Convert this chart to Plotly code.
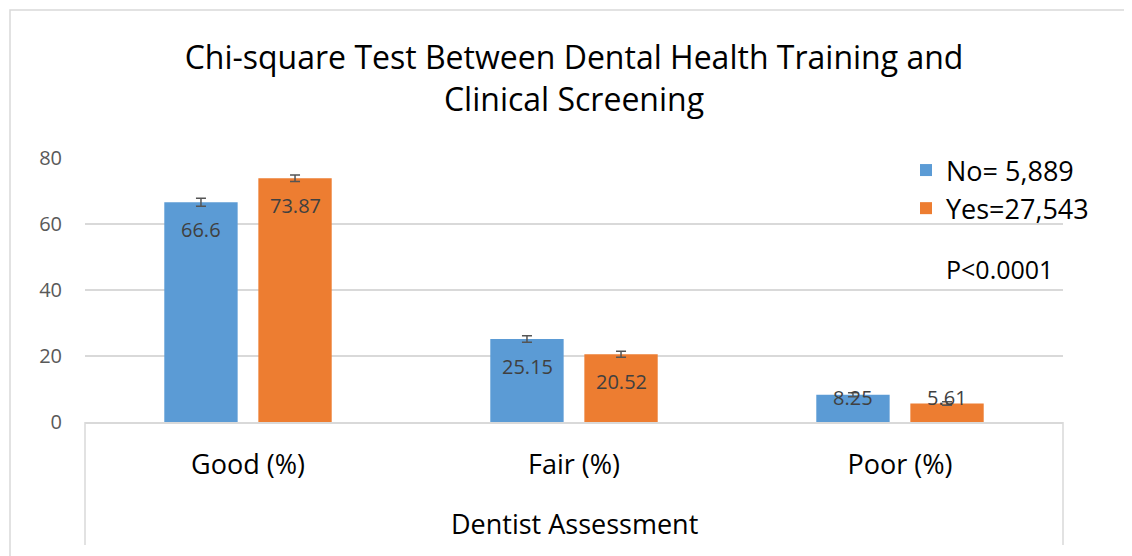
import plotly.graph_objects as go

categories = ["Good (%)", "Fair (%)", "Poor (%)"]
no_values = [66.6, 25.15, 8.25]
yes_values = [73.87, 20.52, 5.61]
no_err = [1.2, 1.0, 0.6]
yes_err = [1.0, 0.9, 0.5]
no_name = "No= 5,889"
yes_name = "Yes=27,543"
y_ticks = [0, 20, 40, 60, 80]

FONT = "Open Sans"
BLUE = "#5B9BD5"
ORANGE = "#ED7D31"
OFF = 8  # page body margin

W, H = 1132 - OFF, 556 - OFF
L, R, T, B = 85 - OFF, 1132 - 1063, 158 - OFF, 556 - 422
pw, ph = W - L - R, H - T - B


def px_x(x):
    return (x - OFF - L) / pw


def px_y(y):
    return (H - B - (y - OFF)) / ph


fig = go.Figure()
for name, vals, errs, col in [(no_name, no_values, no_err, BLUE),
                              (yes_name, yes_values, yes_err, ORANGE)]:
    fig.add_trace(go.Bar(
        x=categories, y=vals, name=name,
        marker=dict(color=col, line=dict(width=0)),
        error_y=dict(type="data", array=errs, visible=True,
                     color="#555555", thickness=1.5, width=5),
    ))

px_per_unit = (422 - 158) / 80
annotations = []
for vals, shift in [(no_values, -47), (yes_values, 47)]:
    for c, v in zip(categories, vals):
        big = v * px_per_unit > 40
        annotations.append(dict(x=c, y=v if big else 0, xref="x", yref="y", xshift=shift,
                                yshift=-27 if big else 25, text=f"{v:g}", showarrow=False,
                                yanchor="middle",
                                font=dict(family=FONT, size=20, color="#404040")))

annotations.append(dict(x=px_x(944), y=px_y(269), xref="paper", yref="paper", text="P<0.0001",
                        showarrow=False, xanchor="left", yanchor="middle",
                        font=dict(family=FONT, size=25, color="#000000")))
annotations.append(dict(x=0.5, y=px_y(523), xref="paper", yref="paper",
                        text="Dentist Assessment", showarrow=False,
                        xanchor="center", yanchor="middle",
                        font=dict(family=FONT, size=27, color="#000000")))

shapes = [
    dict(type="rect", xref="paper", yref="paper",
         x0=px_x(10), x1=px_x(1145), y0=px_y(570), y1=px_y(10),
         line=dict(color="#D9D9D9", width=1.5), fillcolor="rgba(0,0,0,0)", layer="below"),
    dict(type="line", xref="paper", yref="paper", x0=0, x1=0, y0=0, y1=px_y(545),
         line=dict(color="#D9D9D9", width=1.5)),
    dict(type="line", xref="paper", yref="paper", x0=1, x1=1, y0=0, y1=px_y(545),
         line=dict(color="#D9D9D9", width=1.5)),
]

fig.update_layout(
    width=W, height=H,
    margin=dict(l=L, r=R, t=T, b=B, autoexpand=False),
    paper_bgcolor="white", plot_bgcolor="white",
    title=dict(text="Chi-square Test Between Dental Health Training and<br>Clinical Screening",
               x=0.5, xref="paper", xanchor="center",
               yref="container", y=1 - (69 - OFF) / H, yanchor="middle",
               font=dict(family=FONT, size=32, color="#000000")),
    barmode="group", bargap=0.423, bargroupgap=0.22,
    showlegend=True,
    legend=dict(x=px_x(906), y=px_y(146), xanchor="left", yanchor="top",
                font=dict(family=FONT, size=27, color="#000000"),
                bgcolor="rgba(0,0,0,0)", itemsizing="constant", tracegroupgap=8),
    annotations=annotations,
    shapes=shapes,
    xaxis=dict(showgrid=False, showline=True, linecolor="#D9D9D9", linewidth=1.5,
               ticks="", tickfont=dict(family=FONT, size=27, color="#000000"),
               ticklabelstandoff=18),
    yaxis=dict(range=[0, 80], tickvals=y_ticks, showgrid=True, gridcolor="#D9D9D9",
               gridwidth=1.5, zeroline=False, showline=False, ticks="",
               tickfont=dict(family=FONT, size=20, color="#595959"),
               ticklabelstandoff=22),
)

fig.write_html("out.html")
